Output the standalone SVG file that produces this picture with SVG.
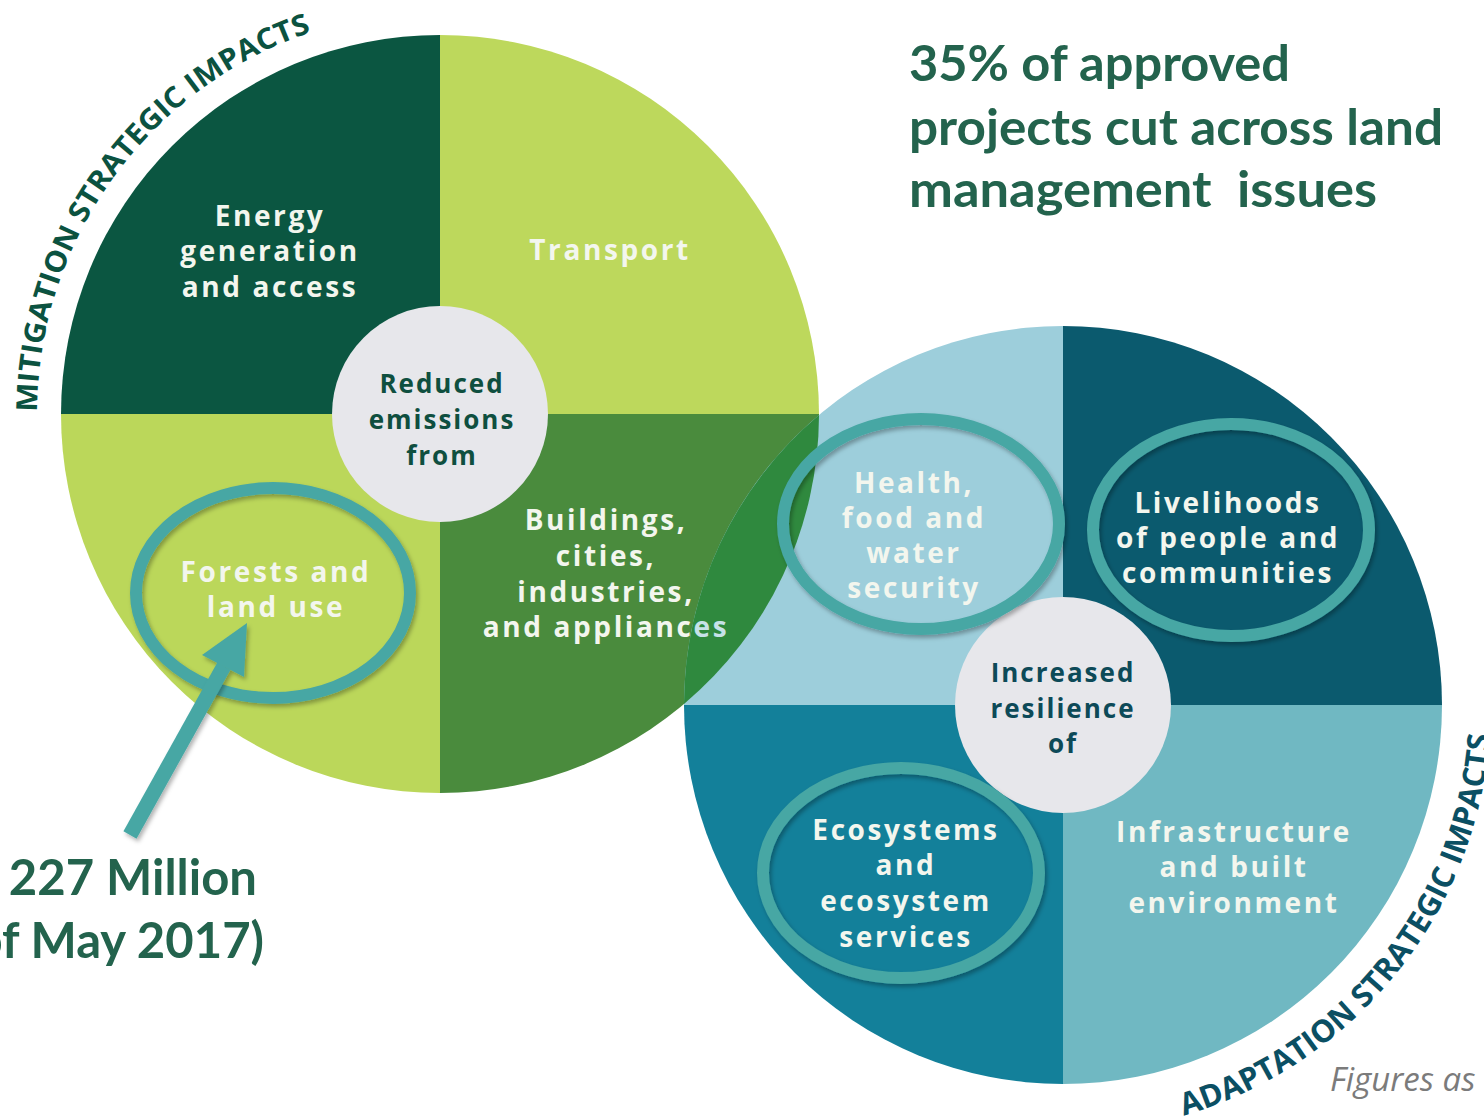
<svg xmlns="http://www.w3.org/2000/svg" width="1484" height="1119" viewBox="0 0 1484 1119">
<defs>
<style>
.lbl{font-family:"Open Sans","Noto Sans",sans-serif;font-weight:700;font-size:28px;letter-spacing:2.6px;fill:#f3f6ee;text-anchor:middle}
.ctr{font-family:"Open Sans","Noto Sans",sans-serif;font-weight:700;font-size:26px;letter-spacing:2px;text-anchor:middle}
.ring{fill:none;stroke:#47a7a4;stroke-width:12;filter:url(#sh)}
.title{font-family:Lato,"Open Sans",sans-serif;font-weight:700;fill:#23634d}
.arc{font-family:"Open Sans","Noto Sans",sans-serif;font-weight:700}
</style>
<filter id="sh" x="-20%" y="-20%" width="140%" height="140%">
<feDropShadow dx="2" dy="3" stdDeviation="2" flood-color="#000" flood-opacity="0.3"/>
</filter>
<path id="mitArc" d="M37 414 A403 403 0 0 1 335.7 24.7"/>
<path id="adaArc" d="M1181 1116.4 A428 428 0 0 0 1489.4 667.7"/>
</defs>
<rect width="1484" height="1119" fill="#ffffff"/>

<!-- mitigation wheel -->
<g id="mitigation-wheel">
<path d="M440 414 L61 414 A379 379 0 0 1 440 35 Z" fill="#0b5641"/>
<path d="M440 414 L440 35 A379 379 0 0 1 819 414 Z" fill="#bdd85c"/>
<path d="M440 414 L819 414 A379 379 0 0 1 440 793 Z" fill="#4a8b3d"/>
<path d="M440 414 L440 793 A379 379 0 0 1 61 414 Z" fill="#bbd75a"/>
</g>

<!-- adaptation wheel -->
<g id="adaptation-wheel">
<path d="M1063 705 L684 705 A379 379 0 0 1 1063 326 Z" fill="#9dcedb"/>
<path d="M1063 705 L1063 326 A379 379 0 0 1 1442 705 Z" fill="#0b5a6e"/>
<path d="M1063 705 L1442 705 A379 379 0 0 1 1063 1084 Z" fill="#70b8c2"/>
<path d="M1063 705 L1063 1084 A379 379 0 0 1 684 705 Z" fill="#13809a"/>
</g>

<!-- overlap lens -->
<path id="overlap" d="M819 415 A379 379 0 0 1 684 704 A379 379 0 0 1 819 415 Z" fill="#2f893e"/>

<g id="center-mitigation">
<circle cx="440" cy="414" r="108" fill="#e7e7eb"/>
<text class="ctr" fill="#0f4f3f"><tspan x="442" y="393">Reduced</tspan><tspan x="442" y="429">emissions</tspan><tspan x="442" y="465">from</tspan></text>
</g>
<g id="center-adaptation">
<circle cx="1063" cy="705" r="108" fill="#e7e7eb"/>
<text class="ctr" fill="#0d4a58"><tspan x="1063" y="682">Increased</tspan><tspan x="1063" y="718">resilience</tspan><tspan x="1063" y="753">of</tspan></text>
</g>

<g id="node-energy">
<text class="lbl"><tspan x="270" y="226">Energy</tspan><tspan x="270" y="261">generation</tspan><tspan x="270" y="297">and access</tspan></text>
</g>
<g id="node-transport">
<text class="lbl" x="610" y="260">Transport</text>
</g>
<g id="node-forests">
<text class="lbl"><tspan x="276" y="582">Forests and</tspan><tspan x="276" y="617">land use</tspan></text>
<ellipse class="ring" cx="273" cy="593" rx="137" ry="105"/>
</g>
<g id="node-buildings">
<text class="lbl"><tspan x="606" y="530">Buildings,</tspan><tspan x="606" y="566">cities,</tspan><tspan x="606" y="602">industries,</tspan><tspan x="606" y="637">and applianc<tspan fill="#c6e2e8">es</tspan></tspan></text>
</g>
<g id="node-health">
<text class="lbl"><tspan x="914" y="493">Health,</tspan><tspan x="914" y="528">food and</tspan><tspan x="914" y="563">water</tspan><tspan x="914" y="598">security</tspan></text>
<ellipse class="ring" cx="921" cy="524" rx="138" ry="105"/>
</g>
<g id="node-livelihoods">
<text class="lbl"><tspan x="1228" y="513">Livelihoods</tspan><tspan x="1228" y="548">of people and</tspan><tspan x="1228" y="583">communities</tspan></text>
<ellipse class="ring" cx="1231" cy="530" rx="138" ry="106"/>
</g>
<g id="node-ecosystems">
<text class="lbl"><tspan x="906" y="840">Ecosystems</tspan><tspan x="906" y="875">and</tspan><tspan x="906" y="911">ecosystem</tspan><tspan x="906" y="947">services</tspan></text>
<ellipse class="ring" cx="901" cy="873" rx="138" ry="105"/>
</g>
<g id="node-infrastructure">
<text class="lbl"><tspan x="1234" y="842">Infrastructure</tspan><tspan x="1234" y="877">and built</tspan><tspan x="1234" y="913">environment</tspan></text>
</g>

<!-- curved headings -->
<text class="arc" font-size="29" fill="#0b5240"><textPath href="#mitArc" startOffset="2" textLength="500" lengthAdjust="spacingAndGlyphs">MITIGATION STRATEGIC IMPACTS</textPath></text>
<text class="arc" font-size="31" fill="#0b4f63"><textPath href="#adaArc" startOffset="3" textLength="520" lengthAdjust="spacingAndGlyphs">ADAPTATION STRATEGIC IMPACTS</textPath></text>

<!-- connectors -->
<g id="connectors" filter="url(#sh)">
<line x1="130" y1="835" x2="224" y2="666" stroke="#47a7a4" stroke-width="15"/>
<polygon points="247,623 202,655 244,677" fill="#47a7a4"/>
</g>

<!-- texts -->
<g id="title">
<text class="title" font-size="50" x="909" y="81" textLength="381" lengthAdjust="spacingAndGlyphs">35% of approved</text>
<text class="title" font-size="50" x="909" y="145" textLength="534" lengthAdjust="spacingAndGlyphs">projects cut across land</text>
<text class="title" font-size="50" x="909" y="207" textLength="468" lengthAdjust="spacingAndGlyphs" xml:space="preserve">management  issues</text>
</g>
<g id="amount">
<text class="title" font-size="49" x="257" y="895" text-anchor="end">$ 227 Million</text>
<text class="title" font-size="49" x="264" y="958" text-anchor="end">(as of May 2017)</text>
</g>
<text x="1330" y="1091" font-family="'Open Sans','Noto Sans',sans-serif" font-style="italic" font-size="33" fill="#7b7b7b">Figures as</text>
</svg>
